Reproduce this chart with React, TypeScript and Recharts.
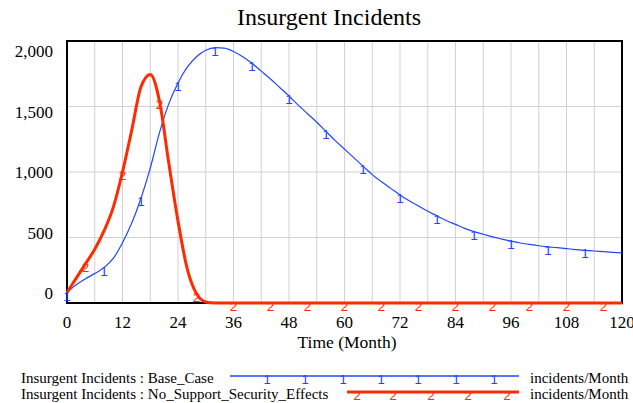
import React from 'react';
import { LineChart, Line, XAxis, YAxis, CartesianGrid, ReferenceArea } from 'recharts';

const MONTHS = [
  0, 2, 4, 6, 8, 10, 12, 14, 16, 18, 20, 22, 24, 26, 28, 30, 32, 34, 36, 38, 40,
  42, 44, 46, 48, 50, 52, 54, 56, 58, 60, 62, 64, 66, 68, 70, 72, 74, 76, 78, 80,
  82, 84, 86, 88, 90, 92, 94, 96, 98, 100, 102, 104, 106, 108, 110, 112, 114, 116, 118, 120,
];

// Insurgent Incidents : Base_Case (incidents/Month)
const BASE_CASE = [
  80, 140, 185, 225, 270, 340, 460, 610, 800, 1030, 1300, 1520, 1680, 1800, 1880, 1930, 1950, 1945, 1920, 1880, 1830,
  1770, 1710, 1645, 1580, 1510, 1445, 1380, 1310, 1240, 1175, 1110, 1045, 980, 925, 875, 825, 780, 740, 700, 665,
  630, 600, 570, 545, 525, 505, 488, 472, 458, 447, 437, 429, 422, 415, 408, 402, 397, 392, 387, 383,
];

// Insurgent Incidents : No_Support_Security_Effects (incidents/Month)
const NO_SUPPORT = [
  80, 190, 300, 410, 550, 730, 1000, 1320, 1650, 1745, 1540, 1070, 625, 260, 70, 8, 0, 0, 0, 0, 0,
  0, 0, 0, 0, 0, 0, 0, 0, 0, 0, 0, 0, 0, 0, 0, 0, 0, 0, 0, 0,
  0, 0, 0, 0, 0, 0, 0, 0, 0, 0, 0, 0, 0, 0, 0, 0, 0, 0, 0, 0,
];

const X_GRID = [0, 6, 12, 18, 24, 30, 36, 42, 48, 54, 60, 66, 72, 78, 84, 90, 96, 102, 108, 114, 120];
const X_LABELS = [0, 12, 24, 36, 48, 60, 72, 84, 96, 108, 120];
const Y_TICKS = [0, 500, 1000, 1500, 2000];

const BLUE = '#2246ff';
const RED = '#ff2a00';
const SERIF = { fontFamily: 'Liberation Serif, DejaVu Serif, serif' };
const SANS = { fontFamily: 'Liberation Sans, DejaVu Sans, sans-serif' };

const data = MONTHS.map((t, i) => ({ t, base: BASE_CASE[i], noSupport: NO_SUPPORT[i] }));

const XTick = (props: any) => {
  const { x, y, payload } = props;
  if (!X_LABELS.includes(payload.value)) return <g />;
  return (
    <text x={x} y={y + 25} textAnchor="middle" style={SERIF} fontSize={17} fill="#000">
      {payload.value}
    </text>
  );
};

const YTick = (props: any) => {
  const { x, y, payload } = props;
  // Vensim spreads its labels a bit tighter than the grid
  const shift = ((payload.value - 1000) / 1000) * 10;
  return (
    <text x={x} y={y + shift + 6} textAnchor="end" style={SERIF} fontSize={17} fill="#000">
      {payload.value.toLocaleString('en-US')}
    </text>
  );
};

const marker = (label: string, color: string, every: number, offset: number) => (props: any) => {
  const { cx, cy, index } = props;
  if (index % every !== offset || index >= MONTHS.length - 1) return <g key={`m-${label}-${index}`} />;
  return (
    <text key={`m-${label}-${index}`} x={cx} y={cy + 8} textAnchor="middle" style={SANS} fontSize={13.5} fill={color}>
      {label}
    </text>
  );
};

const LegendRow = ({ y, name, color, width, x1, marks, label }: any) => (
  <g>
    <text x={21} y={y + 5} style={SERIF} fontSize={15} fill="#000">
      Insurgent Incidents : {name}
    </text>
    <line x1={x1} x2={519} y1={y - 2} y2={y - 2} stroke={color} strokeWidth={width} />
    {marks.map((mx: number) => (
      <text key={mx} x={mx} y={y + 6} textAnchor="middle" style={SANS} fontSize={13} fill={color}>
        {label}
      </text>
    ))}
    <text x={530} y={y + 5} style={SERIF} fontSize={15} fill="#000">
      incidents/Month
    </text>
  </g>
);

export default function App() {
  return (
    <div style={{ position: 'absolute', left: 0, top: 0, width: 633, height: 403, background: '#fff' }}>
      <LineChart width={633} height={403} data={data} margin={{ top: 41, right: 11, left: 0, bottom: 0 }}>
        <CartesianGrid stroke="#d0d0d0" strokeWidth={1} />
        <XAxis
          dataKey="t"
          type="number"
          domain={[0, 120]}
          ticks={X_GRID}
          interval={0}
          height={100}
          tickSize={0}
          tickMargin={0}
          axisLine={false}
          tickLine={false}
          tick={<XTick />}
        />
        <YAxis
          domain={[0, 2000]}
          ticks={Y_TICKS}
          width={67}
          tickSize={0}
          tickMargin={14}
          axisLine={false}
          tickLine={false}
          tick={<YTick />}
        />
        <ReferenceArea x1={0} x2={120} y1={0} y2={2000} fill="none" stroke="#000" strokeWidth={2} />
        <Line
          type="monotone"
          dataKey="base"
          stroke={BLUE}
          strokeWidth={1.2}
          dot={marker('1', BLUE, 4, 0)}
          activeDot={false}
          isAnimationActive={false}
        />
        <Line
          type="monotone"
          dataKey="noSupport"
          stroke={RED}
          strokeWidth={3}
          dot={marker('2', RED, 4, 2)}
          activeDot={false}
          isAnimationActive={false}
        />
      </LineChart>
      <svg width={633} height={403} style={{ position: 'absolute', left: 0, top: 0, pointerEvents: 'none' }}>
        <text x={329} y={25} textAnchor="middle" style={SERIF} fontSize={24} fill="#000">
          Insurgent Incidents
        </text>
        <text x={347} y={348} textAnchor="middle" style={SERIF} fontSize={17.5} fill="#000">
          Time (Month)
        </text>
        <LegendRow y={378} name="Base_Case" color={BLUE} width={1.5} x1={230} marks={[267, 305, 343, 381, 418, 456, 494]} label="1" />
        <LegendRow y={394} name="No_Support_Security_Effects" color={RED} width={3} x1={347} marks={[357, 393, 431, 468, 507]} label="2" />
      </svg>
    </div>
  );
}
